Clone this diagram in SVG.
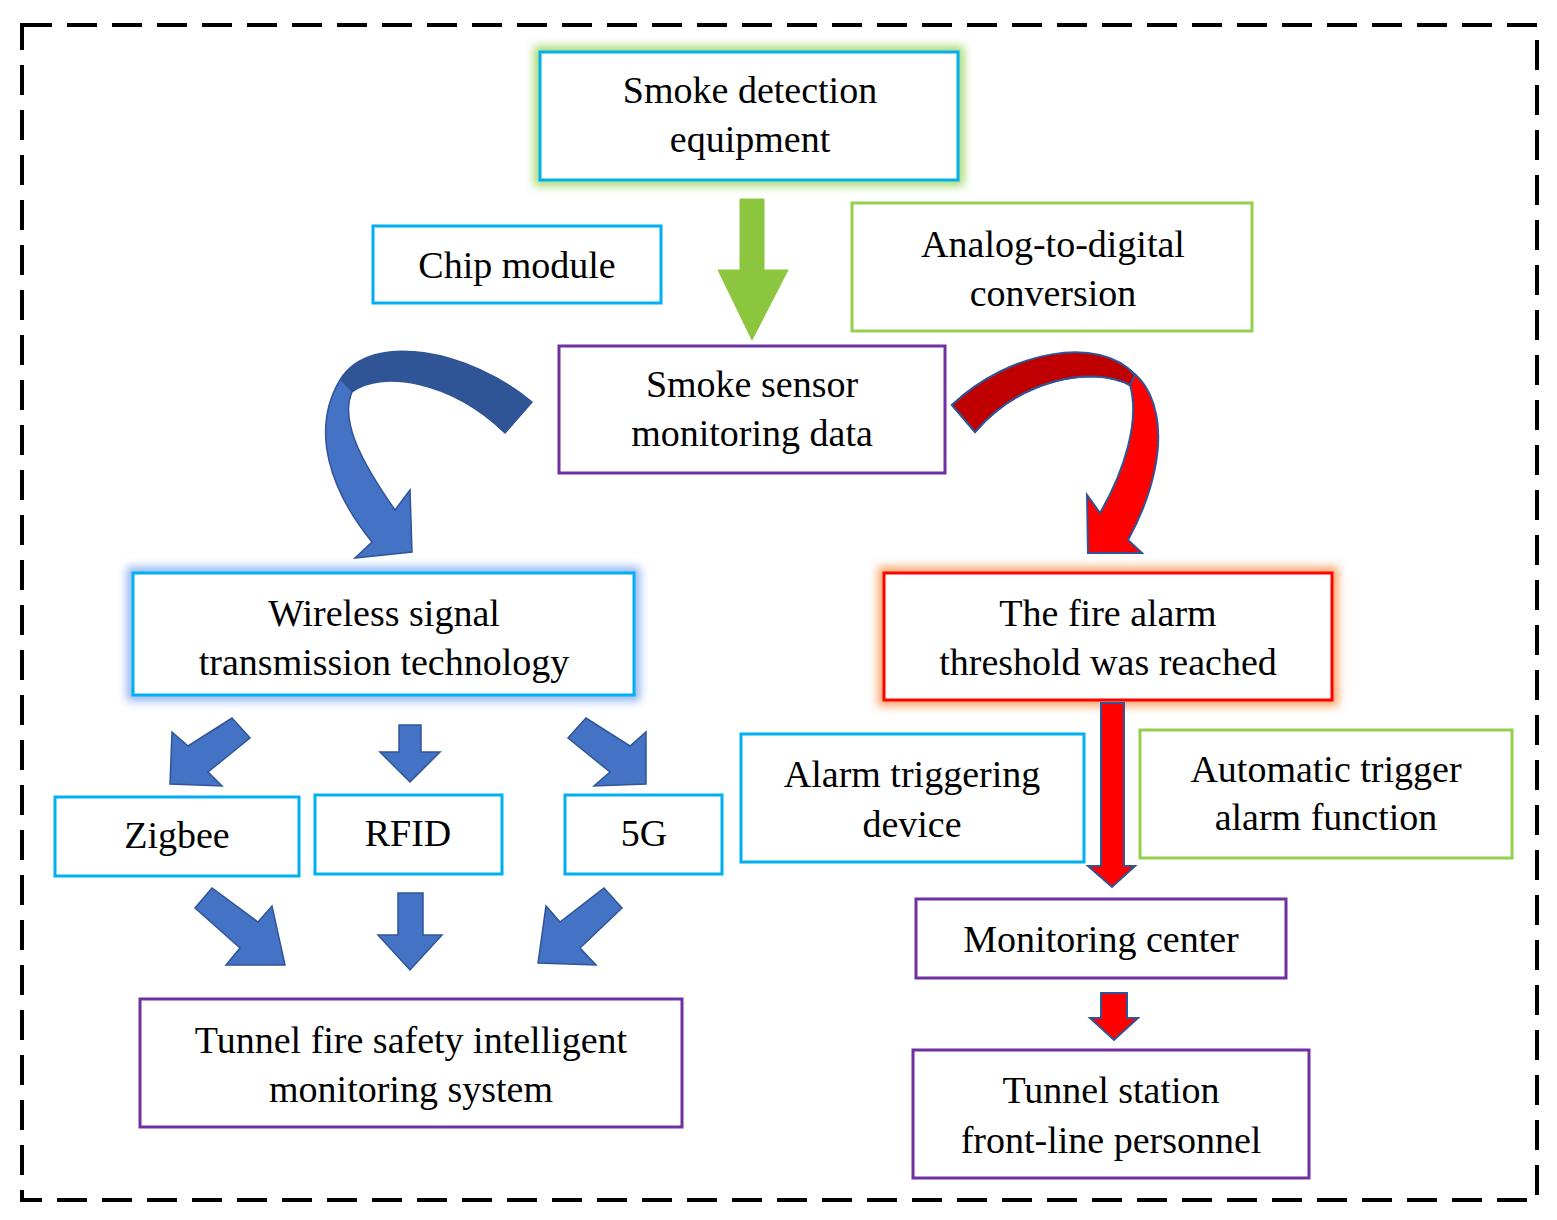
<svg xmlns="http://www.w3.org/2000/svg" width="1557" height="1220" viewBox="0 0 1557 1220" font-family="Liberation Serif, DejaVu Serif, serif">
<defs>
<style>
text{font-family:'Liberation Serif','DejaVu Serif',serif;font-size:38px;fill:#000;text-anchor:middle}
.box{fill:#fff;stroke-width:3}
.b{stroke:#00b0f0}.g{stroke:#92d050}.p{stroke:#7030a0}.r{stroke:#ff0000}
.ba{fill:#4472c4;stroke:#2f5597;stroke-width:1.5}
.ra{fill:#ff0000;stroke:#2f5597;stroke-width:2}
</style>
<filter id="glowG" x="-20%" y="-30%" width="140%" height="160%"><feGaussianBlur stdDeviation="5"/></filter>
</defs>
<rect x="22" y="25" width="1515" height="1175" fill="none" stroke="#000" stroke-width="4" stroke-dasharray="30,15"/>
<g id="n-smoke-detection">
<rect x="540" y="52" width="418" height="128" fill="none" stroke="#92d050" stroke-width="12" filter="url(#glowG)" opacity="0.8"/>
<rect class="box b" x="540" y="52" width="418" height="128"/>
<text x="750" y="103">Smoke detection</text><text x="750" y="152">equipment</text></g>
<g id="n-chip"><rect class="box b" x="373" y="226" width="288" height="77"/><text x="517" y="278">Chip module</text></g>
<g id="n-adc"><rect class="box g" x="852" y="203" width="400" height="128"/><text x="1053" y="257">Analog-to-digital</text><text x="1053" y="306">conversion</text></g>
<g id="n-sensor"><rect class="box p" x="559" y="346" width="386" height="127"/><text x="752" y="397">Smoke sensor</text><text x="752" y="446">monitoring data</text></g>
<g id="n-wireless">
<rect x="133" y="573" width="501" height="122" fill="none" stroke="#8fb4f0" stroke-width="12" filter="url(#glowG)"/>
<rect class="box b" x="133" y="573" width="501" height="122"/>
<text x="384" y="626">Wireless signal</text><text x="384" y="675">transmission technology</text></g>
<g id="n-fire">
<rect x="884" y="573" width="448" height="127" fill="none" stroke="#f8a060" stroke-width="12" filter="url(#glowG)"/>
<rect class="box r" x="884" y="573" width="448" height="127"/>
<text x="1108" y="626">The fire alarm</text><text x="1108" y="675">threshold was reached</text></g>
<g id="n-zigbee"><rect class="box b" x="55" y="797" width="244" height="79"/><text x="177" y="848">Zigbee</text></g>
<g id="n-rfid"><rect class="box b" x="315" y="795" width="187" height="79"/><text x="408" y="846">RFID</text></g>
<g id="n-5g"><rect class="box b" x="565" y="795" width="157" height="79"/><text x="644" y="846">5G</text></g>
<g id="n-tunnel-system"><rect class="box p" x="140" y="999" width="542" height="128"/><text x="411" y="1053">Tunnel fire safety intelligent</text><text x="411" y="1102">monitoring system</text></g>
<g id="n-alarm-device"><rect class="box b" x="741" y="734" width="343" height="128"/><text x="912" y="787">Alarm triggering</text><text x="912" y="837">device</text></g>
<g id="n-auto"><rect class="box g" x="1140" y="730" width="372" height="128"/><text x="1326" y="782">Automatic trigger</text><text x="1326" y="830">alarm function</text></g>
<g id="n-monitoring"><rect class="box p" x="916" y="899" width="370" height="79"/><text x="1101" y="952">Monitoring center</text></g>
<g id="n-station"><rect class="box p" x="913" y="1050" width="396" height="128"/><text x="1111" y="1103">Tunnel station</text><text x="1111" y="1153">front-line personnel</text></g>
<g id="connectors">
<polygon points="740,199 764,199 764,270 788,270 752,340 718,270 740,270" fill="#8cc63f" stroke="#8cc63f"/>
<path class="ba" d="M532,402 C470,350 370,330 340,380 C310,430 330,490 372,542 L355,558 L412,552 L410,490 L395,510 C360,460 340,420 352,392 C380,370 450,380 505,433 Z"/>
<path d="M532,402 C470,350 370,330 340,380 L352,392 C380,370 450,380 505,433 Z" fill="#2f5597"/>
<path class="ra" d="M952,405 C1010,350 1120,330 1150,395 C1170,440 1150,500 1128,540 L1142,553 L1088,553 L1087,495 L1100,513 C1125,470 1140,420 1130,385 C1090,365 1020,380 975,432 Z"/>
<path d="M952,405 C1010,350 1100,335 1135,375 L1130,385 C1090,365 1020,380 975,432 Z" fill="#c00000" stroke="#2f5597" stroke-width="2"/>
<g class="ba">
<polygon points="232,718 250,738 208,772 222,786 170,784 172,732 188,746" />
<polygon points="399,725 421,725 421,752 440,752 410,782 380,752 399,752"/>
<polygon points="568,738 586,718 630,746 646,732 646,784 594,786 610,772"/>
<polygon points="195,908 212,888 258,922 272,906 285,965 226,965 240,948"/>
<polygon points="398,893 423,893 423,935 442,935 410,970 378,935 398,935"/>
<polygon points="622,908 604,888 560,922 546,906 538,963 596,965 580,948"/>
</g>
<polygon class="ra" points="1101,703 1124,703 1124,866 1135,866 1112,887 1088,866 1101,866"/>
<polygon class="ra" points="1101,993 1127,993 1127,1018 1138,1018 1114,1040 1090,1018 1101,1018"/>
</g>
</svg>
